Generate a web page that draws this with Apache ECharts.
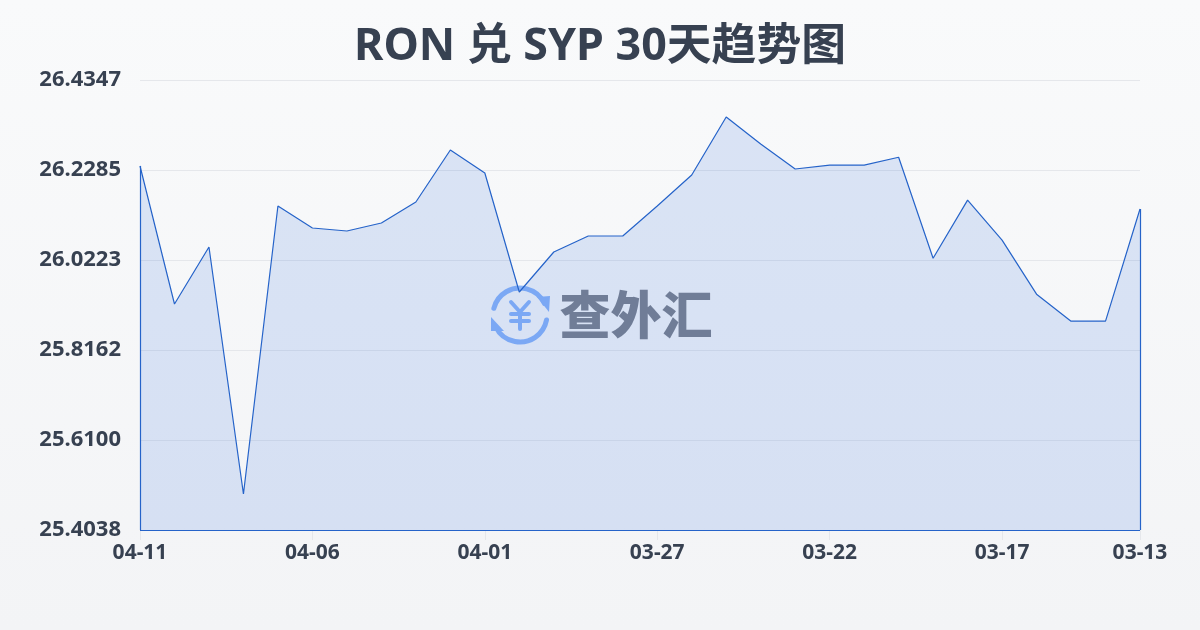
<!DOCTYPE html>
<html><head><meta charset="utf-8">
<style>html,body{margin:0;padding:0;width:1200px;height:630px;overflow:hidden}#c{width:1200px;height:630px}</style>
<script src="https://cdn.jsdelivr.net/npm/echarts@6/dist/echarts.min.js"></script>
</head><body><div id="c"></div>
<script>
const dates = ['04-11','04-10','04-09','04-08','04-07','04-06','04-05','04-04','04-03','04-02','04-01','03-31','03-30','03-29','03-28','03-27','03-26','03-25','03-24','03-23','03-22','03-21','03-20','03-19','03-18','03-17','03-16','03-15','03-14','03-13'];
const rates = [26.2377,25.9215,26.0521,25.4863,26.1460,26.0956,26.0888,26.1071,26.1552,26.2743,26.2216,25.9490,26.0407,26.0773,26.0773,26.1460,26.2171,26.3499,26.2881,26.2308,26.2395,26.2395,26.2578,26.0265,26.1594,26.0678,25.9440,25.8822,25.8822,26.1392];
const yTicks = [25.4038,25.6100,25.8162,26.0223,26.2285,26.4347];
const xTickIndexes = [0,5,10,15,20,25,29];
const yMin = 25.4038, yMax = 26.4347;
const titleText = 'RON 兑 SYP 30天趋势图';
const FONT = '"Noto Sans","Noto Sans CJK SC",sans-serif';
const last = dates.length - 1;
const chart = echarts.init(document.getElementById('c'), null, {renderer:'canvas'});
const LINE = '#2563c9';
const MARK = '#8ab4f8';
const edge = {color:LINE, width:1.2, type:'solid'};
const yenStroke = {stroke:MARK,lineWidth:4,fill:null,lineCap:'round',lineJoin:'round'};
chart.setOption({
  animation:false,
  backgroundColor:{type:'linear',x:0,y:0,x2:0,y2:1,colorStops:[{offset:0,color:'#f9fafb'},{offset:1,color:'#f3f4f6'}]},
  title:{text:titleText,left:'center',top:20,textStyle:{fontFamily:FONT,fontSize:44.8,fontWeight:700,color:'#374151'}},
  grid:{left:140,right:60,top:80,bottom:100,containLabel:false},
  xAxis:{type:'category',data:dates,boundaryGap:false,
    axisLine:{show:false},
    axisTick:{show:true,length:10,alignWithLabel:true,interval:(i)=>xTickIndexes.includes(i),lineStyle:{color:'#e5e7eb',width:1}},
    axisLabel:{interval:(i)=>xTickIndexes.includes(i),showMaxLabel:true,hideOverlap:false,margin:13,fontFamily:FONT,fontSize:21,fontWeight:700,color:'#374151'},
    splitLine:{show:false}},
  yAxis:{type:'value',min:yMin,max:yMax,
    axisLine:{show:false},
    axisTick:{show:false,customValues:yTicks},
    axisLabel:{customValues:yTicks,margin:19,fontFamily:FONT,fontSize:22,fontWeight:700,color:'#374151',formatter:(v)=>v.toFixed(4)},
    splitLine:{show:true,lineStyle:{color:'#e5e7eb',width:1}}},
  graphic:[
    {type:'group',z:100,silent:true,children:[
      {type:'arc',shape:{cx:520,cy:315,r:27,startAngle:Math.PI*1.08,endAngle:Math.PI*1.86,clockwise:true},style:{stroke:MARK,lineWidth:5,fill:null,lineCap:'round'}},
      {type:'arc',shape:{cx:520,cy:315,r:27,startAngle:Math.PI*0.06,endAngle:Math.PI*0.86,clockwise:true},style:{stroke:MARK,lineWidth:5,fill:null,lineCap:'round'}},
      {type:'polygon',shape:{points:[[537,297],[549,312],[550,296]]},style:{fill:MARK}},
      {type:'polygon',shape:{points:[[491,317],[491,331],[504,331]]},style:{fill:MARK}},
      {type:'polyline',shape:{points:[[511,302],[520,312],[529,302]]},style:yenStroke},
      {type:'line',shape:{x1:511,y1:314,x2:529,y2:314},style:yenStroke},
      {type:'line',shape:{x1:511,y1:321,x2:529,y2:321},style:yenStroke},
      {type:'line',shape:{x1:520,y1:312,x2:520,y2:329},style:yenStroke},
      {type:'text',style:{text:'查外汇',x:636,y:315,align:'center',verticalAlign:'middle',fontFamily:'"Noto Sans CJK SC",sans-serif',fontSize:51,fontWeight:900,fill:'#7d828c'}}
    ]}
  ],
  series:[{type:'line',data:rates,symbol:'none',smooth:false,
    lineStyle:{color:LINE,width:1.2},
    areaStyle:{color:'#2563dc',opacity:0.14,origin:'start'},
    markLine:{silent:true,symbol:'none',label:{show:false},lineStyle:edge,animation:false,data:[
      [{coord:[0,yMin]},{coord:[0,rates[0]]}],
      [{coord:[0,yMin]},{coord:[last,yMin]}],
      [{coord:[last,yMin]},{coord:[last,rates[last]]}]
    ]}
  }]
});
</script></body></html>
